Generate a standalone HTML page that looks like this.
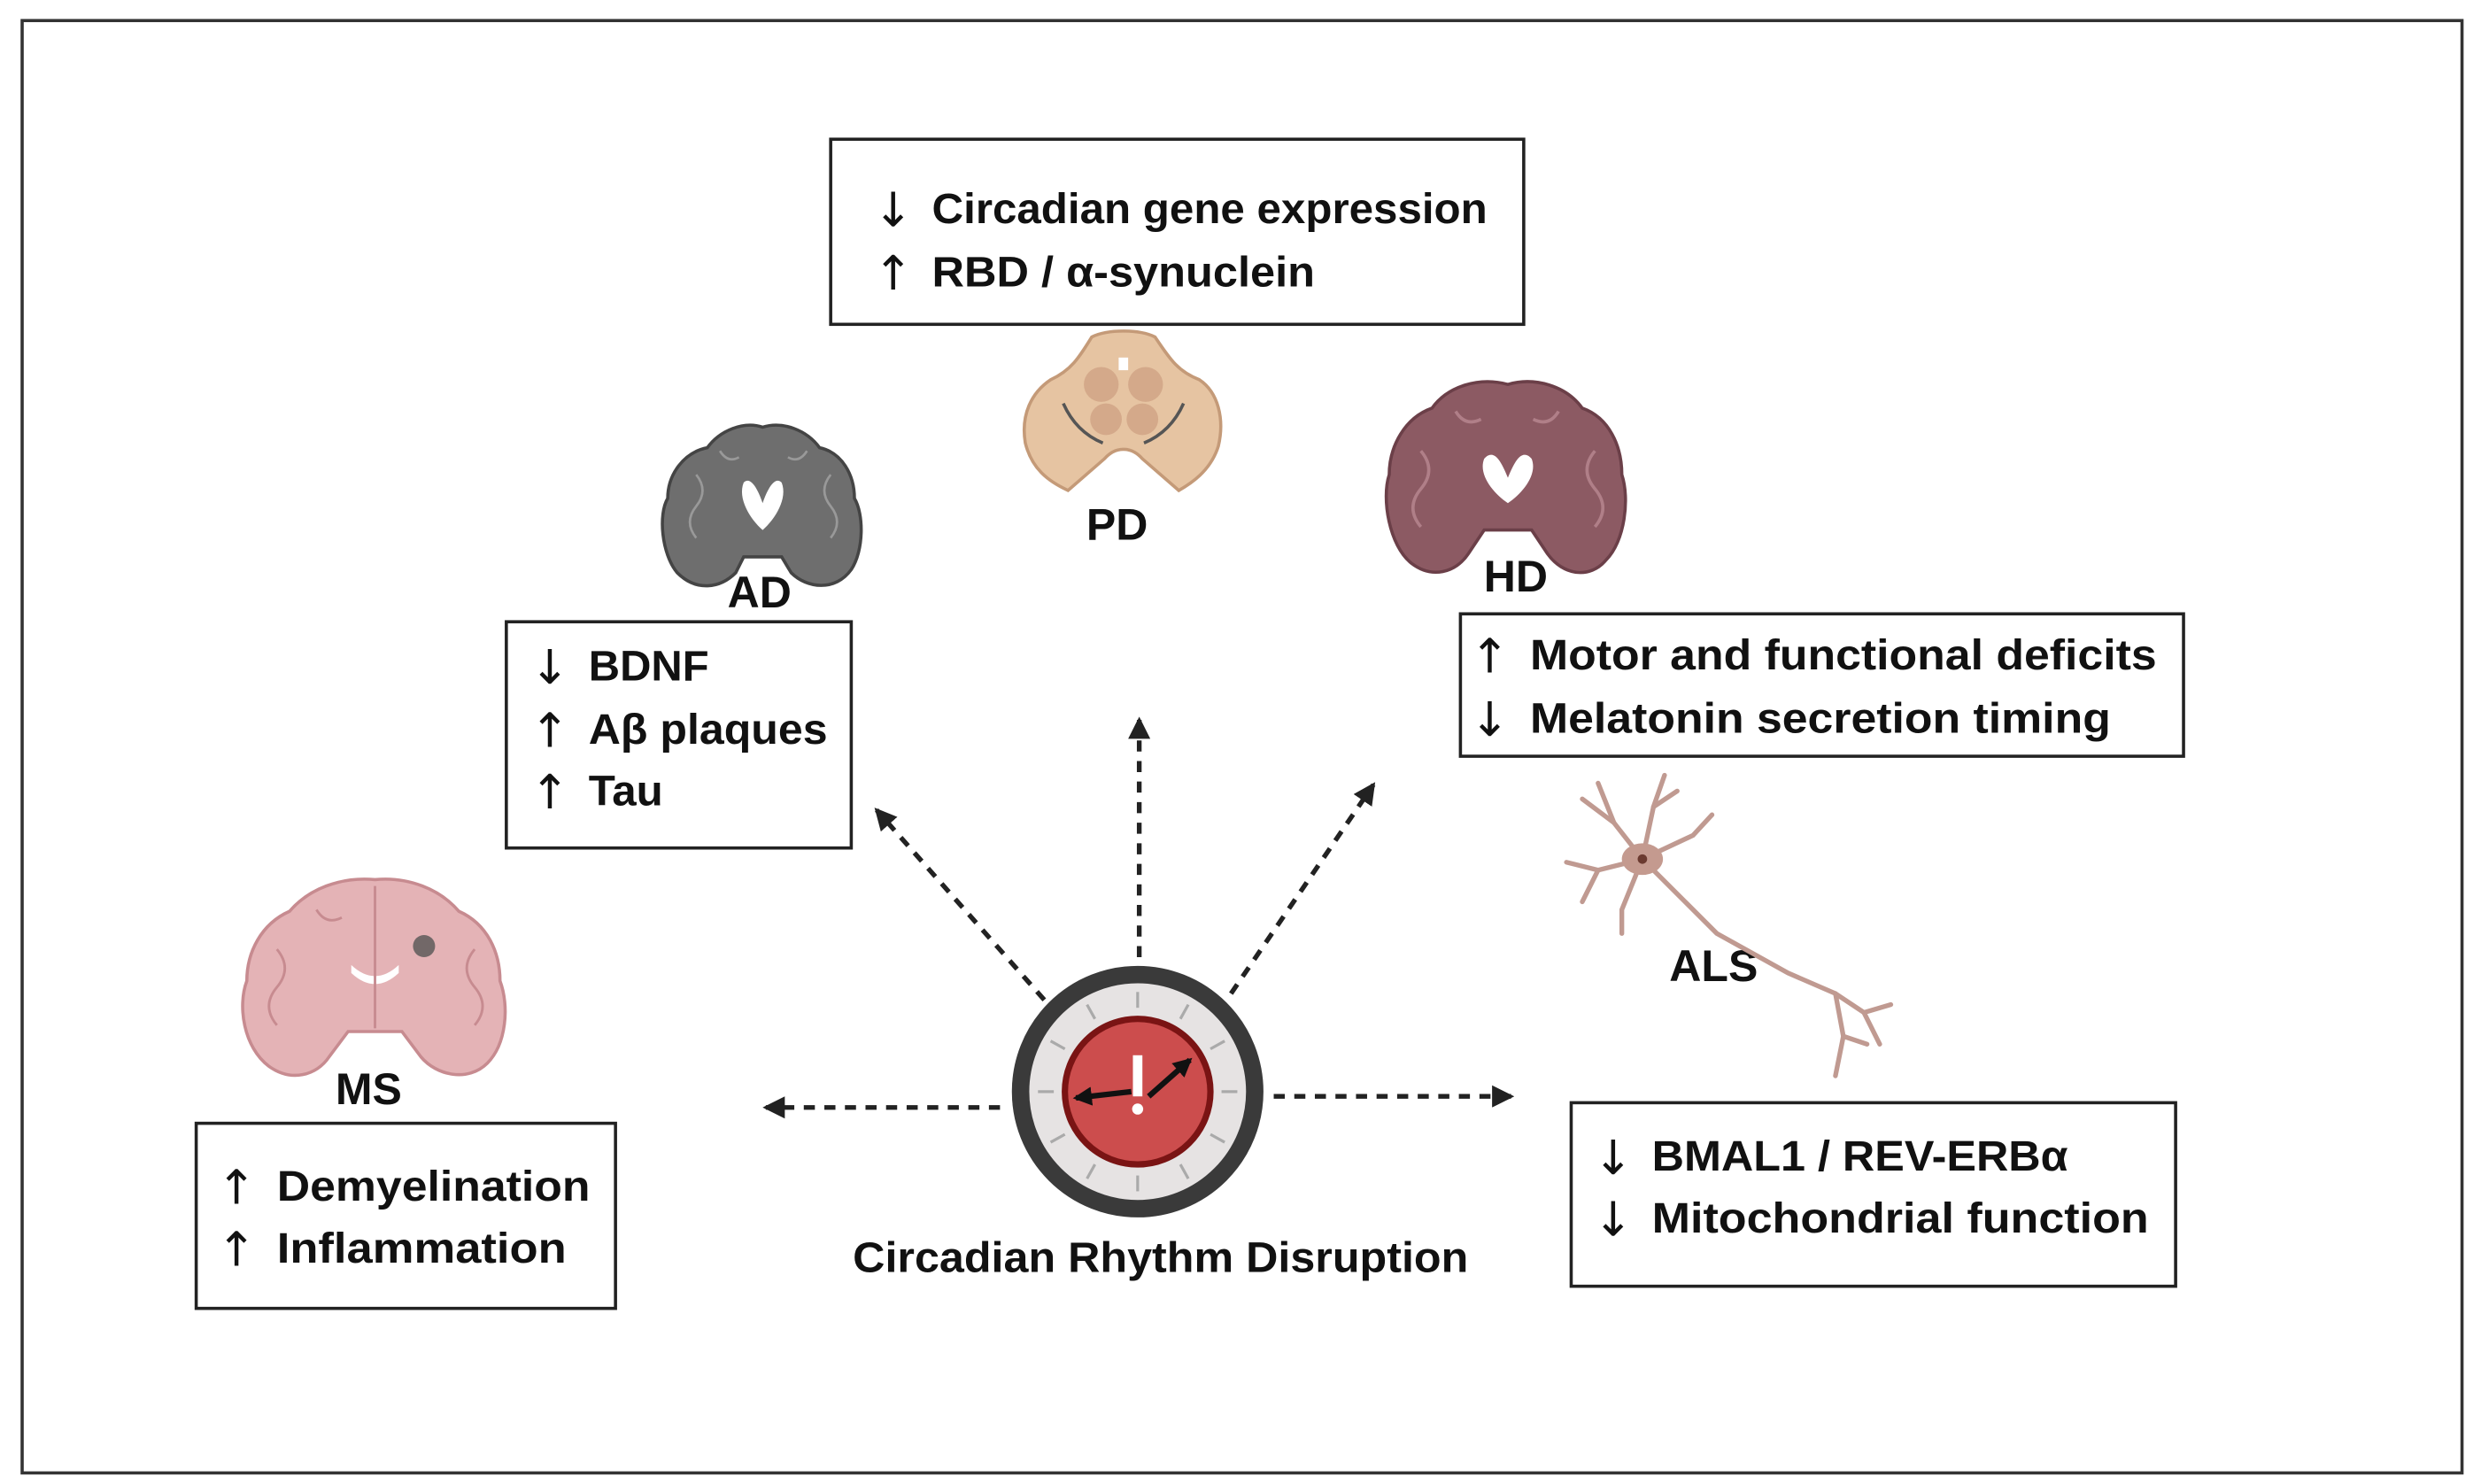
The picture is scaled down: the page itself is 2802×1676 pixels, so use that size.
<!DOCTYPE html>
<html><head><meta charset="utf-8"><style>
html,body{margin:0;padding:0;background:#fff;}
svg{display:block;}
text{font-family:"Liberation Sans Narrow","Liberation Sans",sans-serif;font-weight:bold;fill:#111;}
.ar{font-family:"DejaVu Sans","Liberation Sans",sans-serif;font-weight:normal;font-size:30px;}
</style></head><body>
<svg width="2802" height="1676" viewBox="0 0 1568 938" preserveAspectRatio="none" xmlns="http://www.w3.org/2000/svg">
<defs>
<marker id="ah" markerWidth="12" markerHeight="12" refX="10" refY="6" orient="auto" markerUnits="userSpaceOnUse"><path d="M0,0 L12,6 L0,12 Z" fill="#111"/></marker>
<marker id="ah2" markerWidth="14" markerHeight="14" refX="12" refY="7" orient="auto" markerUnits="userSpaceOnUse"><path d="M0,0 L14,7 L0,14 Z" fill="#222"/></marker>
</defs>
<rect x="14" y="13" width="1542" height="918" fill="#fff" stroke="#333" stroke-width="2"/>

<g fill="#fff" stroke="#222" stroke-width="2">
<rect x="525" y="88" width="438" height="117"/>
<rect x="320" y="393" width="218" height="143"/>
<rect x="923" y="388" width="457" height="90"/>
<rect x="124" y="710" width="265" height="117"/>
<rect x="993" y="697" width="382" height="116"/>
</g>
<g class="ar">
<text class="ar" x="552" y="143">↓</text>
<text class="ar" x="552" y="183">↑</text>
<text class="ar" x="335" y="432">↓</text>
<text class="ar" x="335" y="472">↑</text>
<text class="ar" x="335" y="511">↑</text>
<text class="ar" x="929" y="425">↑</text>
<text class="ar" x="929" y="465">↓</text>
<text class="ar" x="137" y="761">↑</text>
<text class="ar" x="137" y="800">↑</text>
<text class="ar" x="1007" y="742">↓</text>
<text class="ar" x="1007" y="781">↓</text>
</g>
<g font-size="27">
<text x="589" y="141" textLength="351" lengthAdjust="spacingAndGlyphs">Circadian gene expression</text>
<text x="589" y="181" textLength="242" lengthAdjust="spacingAndGlyphs">RBD / α-synuclein</text>
<text x="372" y="430" textLength="76" lengthAdjust="spacingAndGlyphs">BDNF</text>
<text x="372" y="470" textLength="151" lengthAdjust="spacingAndGlyphs">Aβ plaques</text>
<text x="372" y="509" textLength="47" lengthAdjust="spacingAndGlyphs">Tau</text>
<text x="967" y="423" textLength="396" lengthAdjust="spacingAndGlyphs">Motor and functional deficits</text>
<text x="967" y="463" textLength="367" lengthAdjust="spacingAndGlyphs">Melatonin secretion timing</text>
<text x="175" y="759" textLength="198" lengthAdjust="spacingAndGlyphs">Demyelination</text>
<text x="175" y="798" textLength="183" lengthAdjust="spacingAndGlyphs">Inflammation</text>
<text x="1044" y="740" textLength="263" lengthAdjust="spacingAndGlyphs">BMAL1 / REV-ERBα</text>
<text x="1044" y="779" textLength="314" lengthAdjust="spacingAndGlyphs">Mitochondrial function</text>
<text x="539" y="804" textLength="389" lengthAdjust="spacingAndGlyphs">Circadian Rhythm Disruption</text>
</g>
<g font-size="28" text-anchor="middle">
<text x="480" y="384">AD</text>
<text x="706" y="341">PD</text>
<text x="958" y="374">HD</text>
<text x="233" y="698">MS</text>
<text x="1083" y="620">ALS</text>
</g>

<g stroke="#222" stroke-width="3" stroke-dasharray="7,6" fill="none">
<line x1="660" y1="632" x2="554" y2="512" marker-end="url(#ah2)"/>
<line x1="720" y1="605" x2="720" y2="455" marker-end="url(#ah2)"/>
<line x1="778" y1="628" x2="868" y2="496" marker-end="url(#ah2)"/>
<line x1="632" y1="700" x2="484" y2="700" marker-end="url(#ah2)"/>
<line x1="805" y1="693" x2="955" y2="693" marker-end="url(#ah2)"/>
</g>

<circle cx="719" cy="690" r="74" fill="#e6e3e3" stroke="#3a3a3a" stroke-width="11"/>
<g stroke="#aaa" stroke-width="1.8">
<line x1="719" y1="627" x2="719" y2="637"/><line x1="719" y1="743" x2="719" y2="753"/>
<line x1="656" y1="690" x2="666" y2="690"/><line x1="772" y1="690" x2="782" y2="690"/>
<line x1="687" y1="635" x2="692" y2="644"/><line x1="751" y1="635" x2="746" y2="644"/>
<line x1="687" y1="745" x2="692" y2="736"/><line x1="751" y1="745" x2="746" y2="736"/>
<line x1="664" y1="658" x2="673" y2="663"/><line x1="774" y1="658" x2="765" y2="663"/>
<line x1="664" y1="722" x2="673" y2="717"/><line x1="774" y1="722" x2="765" y2="717"/>
</g>
<circle cx="719" cy="690" r="46" fill="#cc4d4d" stroke="#7a1414" stroke-width="4"/>
<g stroke="#111" stroke-width="3.5" fill="none">
<line x1="715" y1="690" x2="680" y2="694" marker-end="url(#ah)"/>
<line x1="726" y1="693" x2="752" y2="670" marker-end="url(#ah)"/>
</g>
<rect x="716" y="667" width="6" height="26" fill="#fff"/>
<circle cx="719" cy="701" r="3.5" fill="#fff"/>

<g>
<path d="M482,270 C470,266 455,272 447,283 C432,286 422,300 422,315 C416,325 418,350 428,362 C440,374 455,372 465,362 L470,352 L494,352 L500,362 C510,372 528,374 538,360 C546,348 546,325 540,315 C540,300 532,286 518,283 C510,272 495,266 482,270 Z" fill="#6e6e6e" stroke="#444" stroke-width="2"/>
<path d="M470,305 C475,300 480,312 482,318 C484,312 489,300 494,305 C498,315 490,328 482,335 C474,328 466,315 470,305 Z" fill="#fff"/>
<g fill="none" stroke="#999" stroke-width="1.5"><path d="M440,300 q8,10 0,20 q-8,10 0,20"/><path d="M525,300 q-8,10 0,20 q8,10 0,20"/><path d="M455,285 q5,8 12,4"/><path d="M510,285 q-5,8 -12,4"/></g>
</g>

<g>
<path d="M690,213 C700,208 720,208 730,213 C740,228 745,235 758,240 C770,248 774,265 770,282 C765,298 752,306 745,310 L722,290 C715,282 705,282 698,290 L675,310 C662,304 652,296 648,280 C645,262 652,248 664,240 C677,234 682,226 690,213 Z" fill="#e6c4a2" stroke="#c49a78" stroke-width="2"/>
<circle cx="696" cy="243" r="11" fill="#d4a98a"/><circle cx="724" cy="243" r="11" fill="#d4a98a"/>
<circle cx="699" cy="265" r="10" fill="#d4a98a"/><circle cx="722" cy="265" r="10" fill="#d4a98a"/>
<rect x="707" y="226" width="6" height="8" fill="#fff"/>
<g stroke="#555" stroke-width="2" fill="none"><path d="M672,255 q8,18 25,25"/><path d="M748,255 q-8,18 -25,25"/></g>
</g>

<g>
<path d="M953,243 C935,238 915,244 905,258 C888,264 878,282 878,300 C873,315 878,345 892,356 C905,366 920,362 928,350 L938,335 L968,335 L978,350 C988,364 1005,366 1015,354 C1027,342 1030,315 1025,300 C1025,282 1017,264 1000,258 C990,244 970,238 953,243 Z" fill="#8c5a63" stroke="#6b3f48" stroke-width="2"/>
<path d="M938,290 C945,282 950,295 953,302 C956,295 961,282 968,290 C972,300 962,312 953,318 C944,312 934,300 938,290 Z" fill="#fff"/>
<g fill="none" stroke="#b07f88" stroke-width="2"><path d="M898,285 q10,12 0,24 q-10,12 0,24"/><path d="M1008,285 q-10,12 0,24 q10,12 0,24"/><path d="M920,260 q6,10 16,5"/><path d="M985,260 q-6,10 -16,5"/></g>
</g>

<g>
<path d="M237,556 C215,554 195,562 183,576 C165,584 156,602 156,620 C150,636 154,662 170,674 C184,684 200,680 208,668 L220,652 L254,652 L266,668 C276,680 296,684 308,672 C320,660 322,636 316,620 C316,602 308,584 290,576 C278,562 258,554 237,556 Z" fill="#e4b3b6" stroke="#c78b90" stroke-width="2"/>
<path d="M222,610 q15,14 30,0 l0,5 q-15,14 -30,0 Z" fill="#fff"/>
<circle cx="268" cy="598" r="7" fill="#555" opacity="0.8"/>
<g fill="none" stroke="#c78b90" stroke-width="1.6"><path d="M175,600 q10,12 0,24 q-10,12 0,24"/><path d="M300,600 q-10,12 0,24 q10,12 0,24"/><path d="M200,575 q6,10 16,5"/><path d="M237,560 L237,650"/></g>
</g>

<g stroke="#c09a91" stroke-width="3" fill="none" stroke-linecap="round">
<path d="M1038,543 L1085,590 L1130,615 L1160,628 L1178,640"/>
<path d="M1160,628 L1165,655 L1160,680"/>
<path d="M1178,640 L1195,635"/><path d="M1178,640 L1188,660"/><path d="M1165,655 L1180,660"/>
<path d="M1038,543 L1020,520 L1000,505"/><path d="M1020,520 L1010,495"/>
<path d="M1038,543 L1045,510 L1052,490"/><path d="M1045,510 L1060,500"/>
<path d="M1038,543 L1070,528 L1082,515"/>
<path d="M1038,543 L1010,550 L990,545"/><path d="M1010,550 L1000,570"/>
<path d="M1038,543 L1025,575 L1025,590"/>
</g>
<ellipse cx="1038" cy="543" rx="13" ry="10" fill="#c49a8f"/>
<circle cx="1038" cy="543" r="3" fill="#6b3a30"/>
</svg>
</body></html>
